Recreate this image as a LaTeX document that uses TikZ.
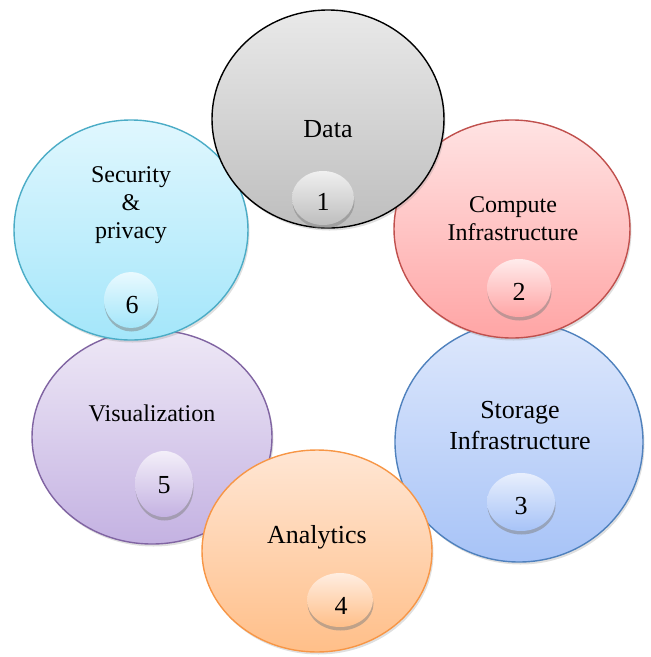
\documentclass[tikz,border=0pt]{standalone}
\usepackage{fontspec}
\setmainfont{Liberation Serif}
\usetikzlibrary{shapes.geometric,shadows}

\definecolor{dataT}{HTML}{E9E9E9}\definecolor{dataB}{HTML}{BEBEBE}
\definecolor{compT}{HTML}{FFE3E3}\definecolor{compB}{HTML}{FFA5A5}\definecolor{compL}{HTML}{C0504D}
\definecolor{storT}{HTML}{DEE8FC}\definecolor{storB}{HTML}{A7C3F7}\definecolor{storL}{HTML}{4F81BD}
\definecolor{anaT}{HTML}{FFE6D4}\definecolor{anaB}{HTML}{FFBF89}\definecolor{anaL}{HTML}{F79646}
\definecolor{visT}{HTML}{EEE8F6}\definecolor{visB}{HTML}{C4B2E2}\definecolor{visL}{HTML}{8064A2}
\definecolor{secT}{HTML}{E0F7FE}\definecolor{secB}{HTML}{A4E6FA}\definecolor{secL}{HTML}{4BACC6}

\begin{document}
\begin{tikzpicture}[x=1pt,y=-1pt,
  bigell/.style={ellipse, inner sep=0pt, line width=1.4pt,
    drop shadow={shadow xshift=1.5pt, shadow yshift=-2.5pt, opacity=0.25}},
  numell/.style={ellipse, inner sep=0pt,
    drop shadow={shadow xshift=0.5pt, shadow yshift=-3.5pt, opacity=0.5}},
  lab/.style={anchor=base, inner sep=0pt},
  fsA/.style={font=\fontsize{26}{30}\selectfont},
  fsB/.style={font=\fontsize{24}{28}\selectfont}
]
\useasboundingbox (0,0) rectangle (651,657);

% Storage
\node[bigell, draw=storL, top color=storT, bottom color=storB,
  minimum width=248pt, minimum height=240pt] (stor) at (519,442) {};
\node[numell, top color=storT!70!white, bottom color=storB,
  minimum width=68pt, minimum height=58pt] (n3) at (521,502) {};
\node[lab,fsA] (t3a) at (520,418) {Storage};
\node[lab,fsA] (t3b) at (520,449) {Infrastructure};
\node[lab,fsA] (t3n) at (521,514) {3};

% Visualization
\node[bigell, draw=visL, top color=visT, bottom color=visB,
  minimum width=240pt, minimum height=214pt] (vis) at (152,437) {};
\node[numell, top color=visT!70!white, bottom color=visB,
  minimum width=58pt, minimum height=66pt] (n5) at (164,484) {};
\node[lab,fsB] (t5a) at (152,421) {Visualization};
\node[lab,fsA] (t5n) at (164,493) {5};

% Compute
\node[bigell, draw=compL, top color=compT, bottom color=compB,
  minimum width=236pt, minimum height=218pt] (comp) at (512,229) {};
\node[numell, top color=compT!70!white, bottom color=compB,
  minimum width=64pt, minimum height=58pt] (n2) at (519,288) {};
\node[lab,fsB] (t2a) at (513,212) {Compute};
\node[lab,fsB] (t2b) at (513,240) {Infrastructure};
\node[lab,fsA] (t2n) at (519,300) {2};

% Security
\node[bigell, draw=secL, top color=secT, bottom color=secB,
  minimum width=234pt, minimum height=220pt] (sec) at (131,230) {};
\node[numell, top color=secT!70!white, bottom color=secB,
  minimum width=54pt, minimum height=56pt] (n6) at (131,300) {};
\node[lab,fsB] (t6a) at (131,182) {Security};
\node[lab,fsB] (t6b) at (131,210) {\&};
\node[lab,fsB] (t6c) at (131,238) {privacy};
\node[lab,fsA] (t6n) at (132,313) {6};

% Data
\node[bigell, draw=black, top color=dataT, bottom color=dataB,
  minimum width=232pt, minimum height=218pt] (data) at (328,119) {};
\node[numell, top color=dataT!70!white, bottom color=dataB,
  minimum width=62pt, minimum height=54pt] (n1) at (323,198) {};
\node[lab,fsA] (t1a) at (328,137) {Data};
\node[lab,fsA] (t1n) at (323,210) {1};

% Analytics
\node[bigell, draw=anaL, top color=anaT, bottom color=anaB,
  minimum width=230pt, minimum height=202pt] (ana) at (317,551) {};
\node[numell, top color=anaT!70!white, bottom color=anaB,
  minimum width=66pt, minimum height=54pt] (n4) at (340,600) {};
\node[lab,fsA] (t4a) at (317,543) {Analytics};
\node[lab,fsA] (t4n) at (341,614) {4};
\end{tikzpicture}
\end{document}
